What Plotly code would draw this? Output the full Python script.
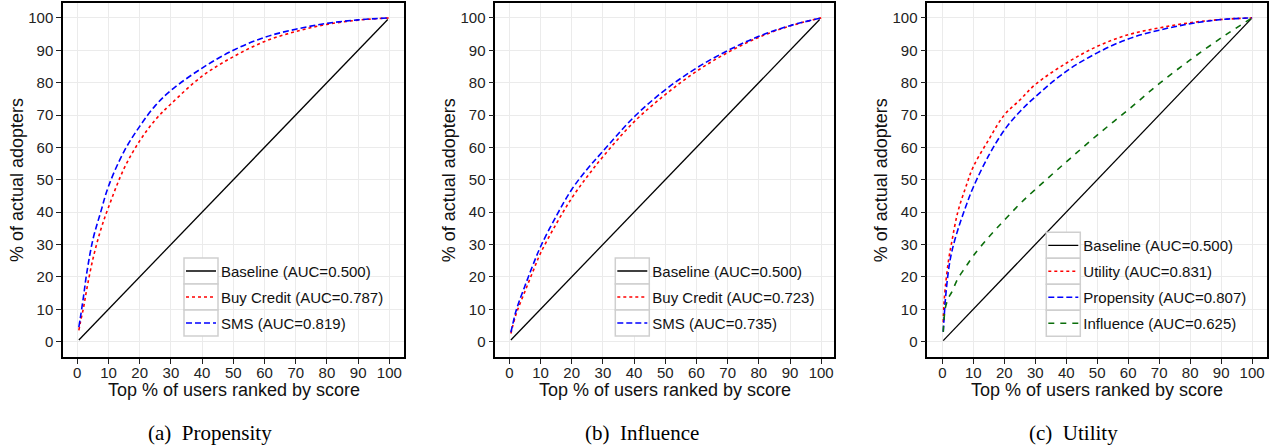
import plotly.graph_objects as go

W, H = 1276, 446

# ---------------- data ----------------
x_ab = [0.5, 1, 2, 3, 5, 7.5, 10, 15, 20, 25, 30, 40, 50, 60, 70, 80, 90, 100]
# (a) Propensity
sms_a = [4.5, 7.5, 14, 21, 31.5, 40, 48, 58.8, 66.5, 72.9, 77.6, 84.5, 90, 94, 96.5, 98.3, 99.4, 100]
buy_a = [3.5, 6, 10.5, 16, 25.5, 34.5, 41.5, 53.5, 62, 68.5, 73.4, 82, 88, 92.7, 95.8, 98, 99.3, 100]
# (b) Influence
sms_b = [2.9, 5, 9, 12, 17.2, 23.5, 29.3, 38.7, 47, 53.3, 58.8, 69.4, 77.8, 84.5, 89.9, 94.3, 97.6, 100]
buy_b = [2.5, 4.5, 8, 10.7, 15.5, 21.5, 27.3, 36.3, 44.3, 51, 57.1, 67.9, 76.3, 83.5, 89.3, 94, 97.5, 100]
# (c) Utility
x_c = [0.3, 0.5, 1, 2, 3, 5, 7.5, 10, 15, 20, 25, 30, 40, 50, 60, 70, 80, 90, 100]
utility_c = [6, 11, 17, 25, 30.5, 40, 47.5, 54, 62.4, 70, 74.6, 79.4, 86, 91.2, 94.8, 96.9, 98.5, 99.5, 100]
propensity_c = [3, 6, 13, 22, 27.5, 34.5, 41.5, 47.7, 57.5, 65.3, 71, 75.6, 83.5, 89.2, 93.5, 96.2, 98.2, 99.5, 100]
influence_c = [3, 6, 10.5, 13.5, 15.2, 19.4, 23, 26.5, 32.3, 37.5, 42.5, 47, 55.5, 63.8, 71.6, 79.7, 87, 93.8, 100]
# baselines
base_ab_x = [0.5, 99.5]
base_ab_y = [0.5, 99.5]
base_c_x = [0.3, 99.7]
base_c_y = [0.3, 99.7]

names_a = ["Baseline (AUC=0.500)", "Buy Credit (AUC=0.787)", "SMS (AUC=0.819)"]
names_b = ["Baseline (AUC=0.500)", "Buy Credit (AUC=0.723)", "SMS (AUC=0.735)"]
names_c = ["Baseline (AUC=0.500)", "Utility (AUC=0.831)", "Propensity (AUC=0.807)", "Influence (AUC=0.625)"]
captions = ["(a)\u00a0 Propensity", "(b)\u00a0 Influence", "(c)\u00a0 Utility"]
x_ticks = list(range(0, 101, 10))
y_ticks = list(range(0, 101, 10))
x_title = "Top % of users ranked by score"
y_title = "% of actual adopters"

# ---------------- styling ----------------
SANS = "Liberation Sans, Arial, sans-serif"
SERIF = "Liberation Serif, Times New Roman, serif"
RED, BLUE, GREEN = "#ff0000", "#0000ff", "#0b6e0b"
base_line = dict(color="black", width=1.3)
red_line = dict(color=RED, width=1.6, dash="dot")
blue_line = dict(color=BLUE, width=1.6, dash="6px,3px")
green_line = dict(color=GREEN, width=1.6, dash="6px,6px")

def px_x(p):
    return p / W

def px_y(p):
    return 1 - p / H

# panel geometry (pixels)
panels = [
    dict(left=63, right=404, xr=[-4.58, 104.7]),
    dict(left=495.3, right=834.3, xr=[-4.5, 104.2]),
    dict(left=927.3, right=1267.3, xr=[-4.84, 104.9]),
]
top_px, bot_px = 3, 357
yr = [-4.75, 104.6]

fig = go.Figure()

def add(x, y, name, line, k, legend):
    fig.add_trace(go.Scatter(
        x=x, y=y, name=name, mode="lines", line=line, line_shape="spline",
        xaxis="x" if k == 1 else f"x{k}", yaxis="y" if k == 1 else f"y{k}",
        legend=legend, legendgroup=f"{legend}_{name}", showlegend=True,
        hoverinfo="skip",
    ))

add(base_ab_x, base_ab_y, names_a[0], base_line, 1, "legend")
add(x_ab, buy_a, names_a[1], red_line, 1, "legend")
add(x_ab, sms_a, names_a[2], blue_line, 1, "legend")

add(base_ab_x, base_ab_y, names_b[0], base_line, 2, "legend2")
add(x_ab, buy_b, names_b[1], red_line, 2, "legend2")
add(x_ab, sms_b, names_b[2], blue_line, 2, "legend2")

add(base_c_x, base_c_y, names_c[0], base_line, 3, "legend3")
add(x_c, utility_c, names_c[1], red_line, 3, "legend3")
add(x_c, propensity_c, names_c[2], blue_line, 3, "legend3")
add(x_c, influence_c, names_c[3], green_line, 3, "legend3")

axis_common = dict(
    showline=True, linecolor="black", linewidth=1.5, mirror=True,
    ticks="outside", ticklen=5, tickwidth=1.3, tickcolor="#222",
    showgrid=True, gridcolor="#ebebeb", gridwidth=1, zeroline=False,
    tickfont=dict(family=SANS, size=15, color="#222"),
)

layout = dict(
    width=W, height=H, margin=dict(l=0, r=0, t=0, b=0),
    plot_bgcolor="white", paper_bgcolor="white",
    showlegend=True,
)
for i, p in enumerate(panels):
    k = "" if i == 0 else str(i + 1)
    layout[f"xaxis{k}"] = dict(
        axis_common, domain=[px_x(p["left"]), px_x(p["right"])], range=p["xr"],
        tickvals=x_ticks, anchor=f"y{k}", ticklabelstandoff=-4,
    )
    layout[f"yaxis{k}"] = dict(
        axis_common, domain=[px_y(bot_px), px_y(top_px)], range=yr,
        tickvals=y_ticks, anchor=f"x{k}",
    )

# legends: text start pixel and first row center pixel
leg_specs = [("legend", 221, 271), ("legend2", 652.3, 271), ("legend3", 1083.3, 245.3)]
row_pitch = 26
for name, text_x, row0 in leg_specs:
    layout[name] = dict(
        x=px_x(text_x - 40), y=px_y(row0 - 16.25), xanchor="left", yanchor="top",
        bgcolor="rgba(0,0,0,0)", borderwidth=0, traceorder="grouped",
        tracegroupgap=3.5, font=dict(family=SANS, size=15, color="#111"),
        itemclick=False, itemdoubleclick=False,
    )

shapes = []
nrows = [3, 3, 4]
for (name, text_x, row0), n in zip(leg_specs, nrows):
    for r in range(n):
        cy = row0 + r * row_pitch
        shapes.append(dict(
            type="rect", xref="paper", yref="paper", layer="above",
            x0=px_x(text_x - 37), x1=px_x(text_x - 3),
            y0=px_y(cy - 13), y1=px_y(cy + 13),
            line=dict(color="#cfcfcf", width=1.5), fillcolor="white",
        ))

annotations = []
cap_x = [209.5, 641.7, 1073]
for i, p in enumerate(panels):
    k = "" if i == 0 else str(i + 1)
    annotations.append(dict(
        text=x_title, xref=f"x{k} domain", x=0.5, yref="paper", y=px_y(390),
        xanchor="center", yanchor="middle", showarrow=False,
        font=dict(family=SANS, size=18, color="#111"),
    ))
    annotations.append(dict(
        text=y_title, xref=f"x{k} domain", x=0, xshift=-46, yref=f"y{k} domain", y=0.5,
        xanchor="center", yanchor="middle", textangle=-90, showarrow=False,
        font=dict(family=SANS, size=18, color="#111"),
    ))
    annotations.append(dict(
        text=captions[i], xref="paper", x=px_x(cap_x[i]), yref="paper", y=px_y(433),
        xanchor="center", yanchor="middle", showarrow=False,
        font=dict(family=SERIF, size=21, color="black"),
    ))

layout["shapes"] = shapes
layout["annotations"] = annotations
fig.update_layout(**layout)
fig.write_html(
    "out.html",
    config={"displayModeBar": False},
    post_script="document.body.style.margin='0';document.body.style.padding='0';",
)
